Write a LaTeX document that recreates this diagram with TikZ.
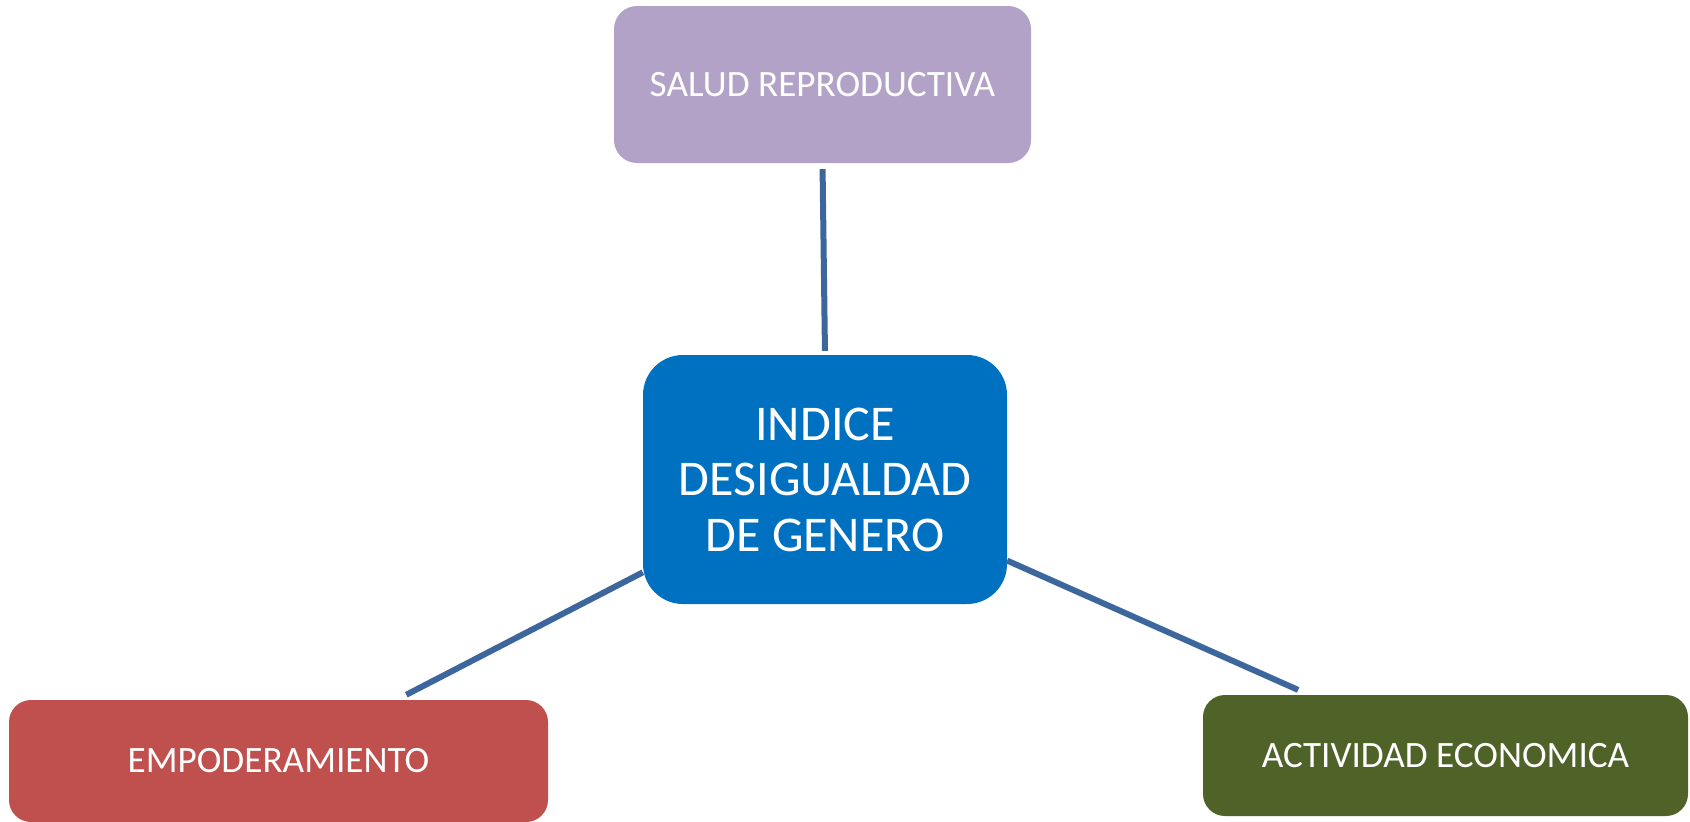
\documentclass[tikz,border=0pt]{standalone}
\usepackage{fontspec}
\setmainfont{Carlito}
\definecolor{purp}{HTML}{B3A2C7}
\definecolor{midblue}{HTML}{0070C0}
\definecolor{redbox}{HTML}{C0504D}
\definecolor{greenbox}{HTML}{4F6228}
\definecolor{linec}{HTML}{3D679C}
\begin{document}
\begin{tikzpicture}[x=1pt,y=-1pt,
  box/.style={rounded corners=#1, inner sep=0pt, align=center, text=white,
    font=\fontsize{37.2}{44}\selectfont},
  link/.style={draw=linec, line width=6pt}]
\useasboundingbox (0,0) rectangle (1690,822);
\node[box=23pt, fill=purp, minimum width=417pt, minimum height=157pt] (salud) at (822.5,84.5) {SALUD REPRODUCTIVA};
\node[box=40pt, fill=midblue, minimum width=364pt, minimum height=249pt,
  font=\fontsize{50}{55.5}\selectfont] (indice) at (825,479.5) {INDICE\\DESIGUALDAD\\DE GENERO};
\node[box=22pt, fill=redbox, minimum width=539pt, minimum height=122pt] (empo) at (278.5,761) {EMPODERAMIENTO};
\node[box=22pt, fill=greenbox, minimum width=485pt, minimum height=121pt] (eco) at (1445.5,755.5) {ACTIVIDAD ECONOMICA};
\draw[link, shorten <=6pt, shorten >=4pt] (salud.south) -- (indice.north);
\draw[link, shorten >=11pt] (indice.207) -- (empo);
\draw[link, shorten >=12pt] (indice.336.4) -- (eco);
\end{tikzpicture}
\end{document}
